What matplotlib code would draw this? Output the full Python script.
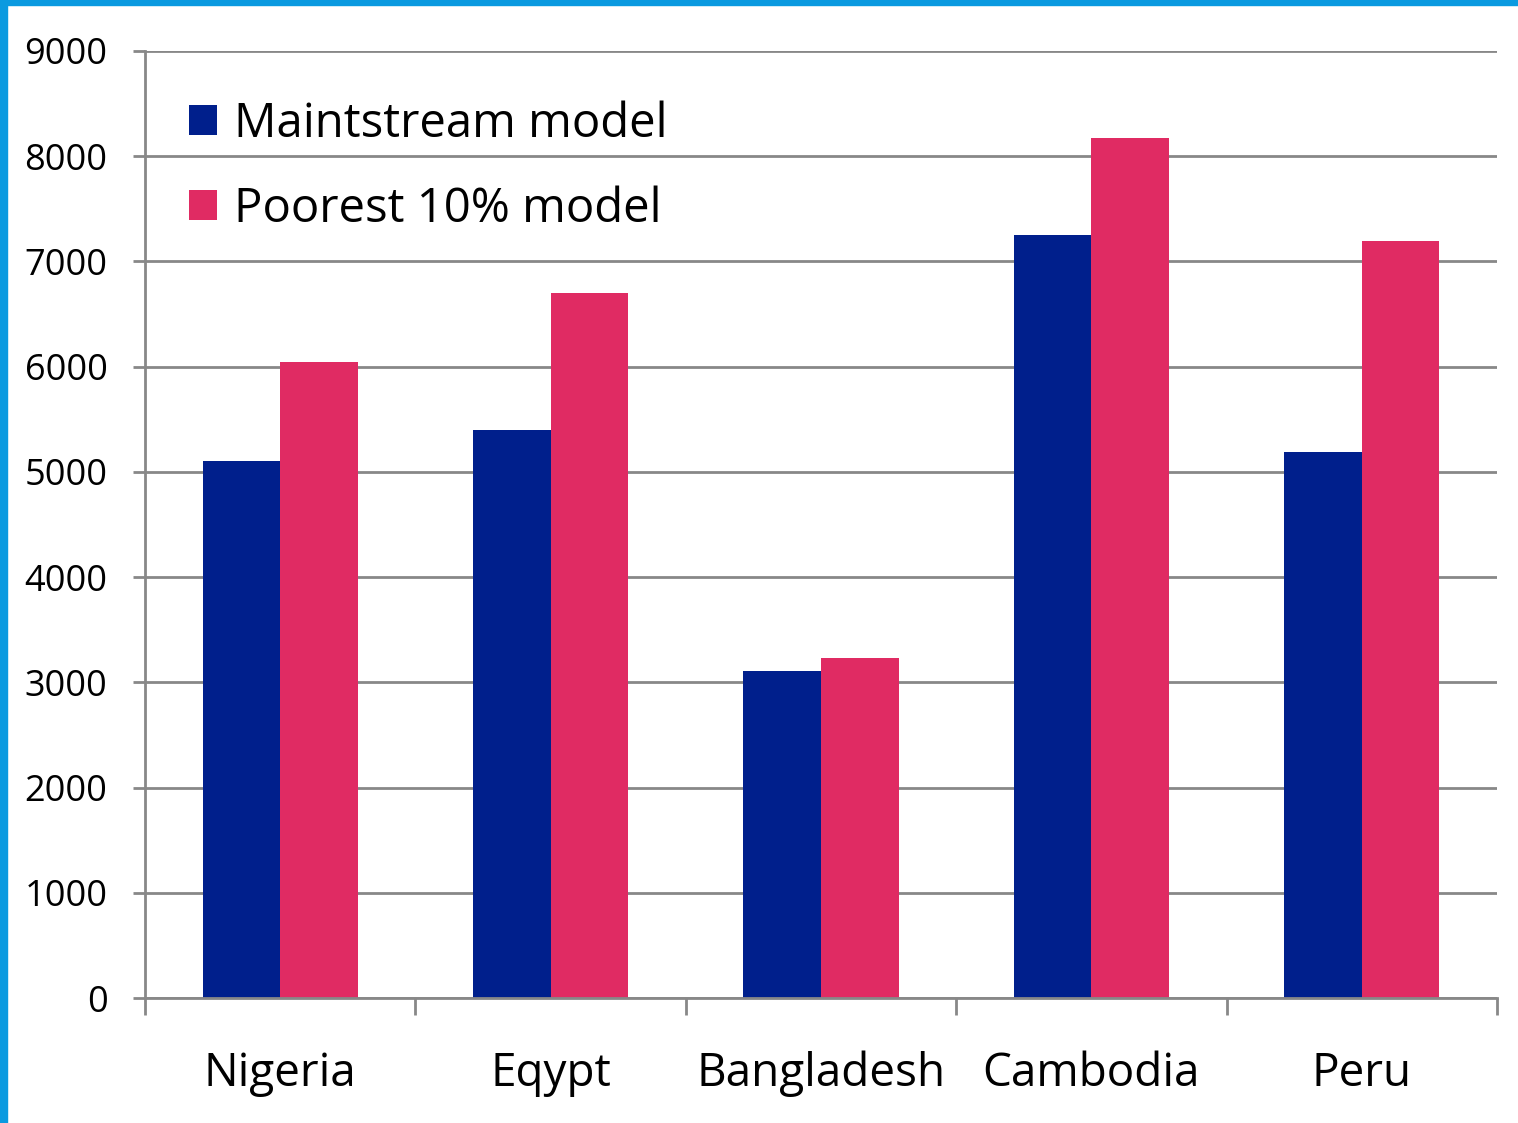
import numpy as np
import matplotlib.pyplot as plt
from matplotlib.patches import Rectangle
from matplotlib.transforms import ScaledTranslation

countries = ['Nigeria', 'Eqypt', 'Bangladesh', 'Cambodia', 'Peru']
mainstream = [5100, 5400, 3110, 7250, 5190]
poorest = [6040, 6700, 3230, 8170, 7190]
yticks = [0, 1000, 2000, 3000, 4000, 5000, 6000, 7000, 8000, 9000]

plt.rcParams['font.family'] = ['Open Sans', 'DejaVu Sans']

fig = plt.figure(figsize=(15.18, 11.23), dpi=100)
ax = fig.add_axes([0.0955, 0.1113, 0.8907, 0.8433])

x = np.arange(len(countries))
w = 0.287
ax.bar(x - w / 2, mainstream, w, color='#001f8c', label='Maintstream model', zorder=3)
ax.bar(x + w / 2, poorest, w, color='#e02b63', label='Poorest 10% model', zorder=3)

ax.set_xlim(-0.5, len(countries) - 0.5)
ax.set_ylim(0, 9000)
ax.set_yticks(yticks)
ax.set_yticklabels([str(v) for v in yticks], fontsize=26)
# nudge y labels a little down, like the original
offset = ScaledTranslation(0, -4 / 100, fig.dpi_scale_trans)
for lab in ax.get_yticklabels():
    lab.set_transform(lab.get_transform() + offset)

# categories between ticks, ticks at group boundaries
ax.set_xticks(np.arange(len(countries) + 1) - 0.5)
ax.set_xticklabels([])
ax.set_xticks(x, minor=True)
ax.set_xticklabels(countries, minor=True, fontsize=33)
ax.tick_params(axis='x', which='minor', length=0, pad=38)
ax.tick_params(axis='x', which='major', length=12, width=2, color='#888888', direction='out')
ax.tick_params(axis='y', length=9, width=2, color='#888888', direction='out', pad=18)

ax.grid(axis='y', color='#888888', linewidth=2, zorder=0)
for s in ['top', 'right']:
    ax.spines[s].set_visible(False)
ax.spines['left'].set_color('#888888')
ax.spines['left'].set_linewidth(2)
ax.spines['bottom'].set_color('#888888')
ax.spines['bottom'].set_linewidth(2)
ax.spines['bottom'].set_zorder(4)

ax.legend(loc='upper left', bbox_to_anchor=(0.001, 0.993), frameon=False, fontsize=34,
          handlelength=0.6, handleheight=0.6, handletextpad=0.35, labelspacing=0.8)

# blue frame on the top and left
fig.patches.append(Rectangle((0, 0), 0.0046, 1, transform=fig.transFigure, color='#0a9ae0', zorder=10))
fig.patches.append(Rectangle((0, 0.9955), 1, 0.0045, transform=fig.transFigure, color='#0a9ae0', zorder=10))

fig.savefig('out.png', dpi=100)
